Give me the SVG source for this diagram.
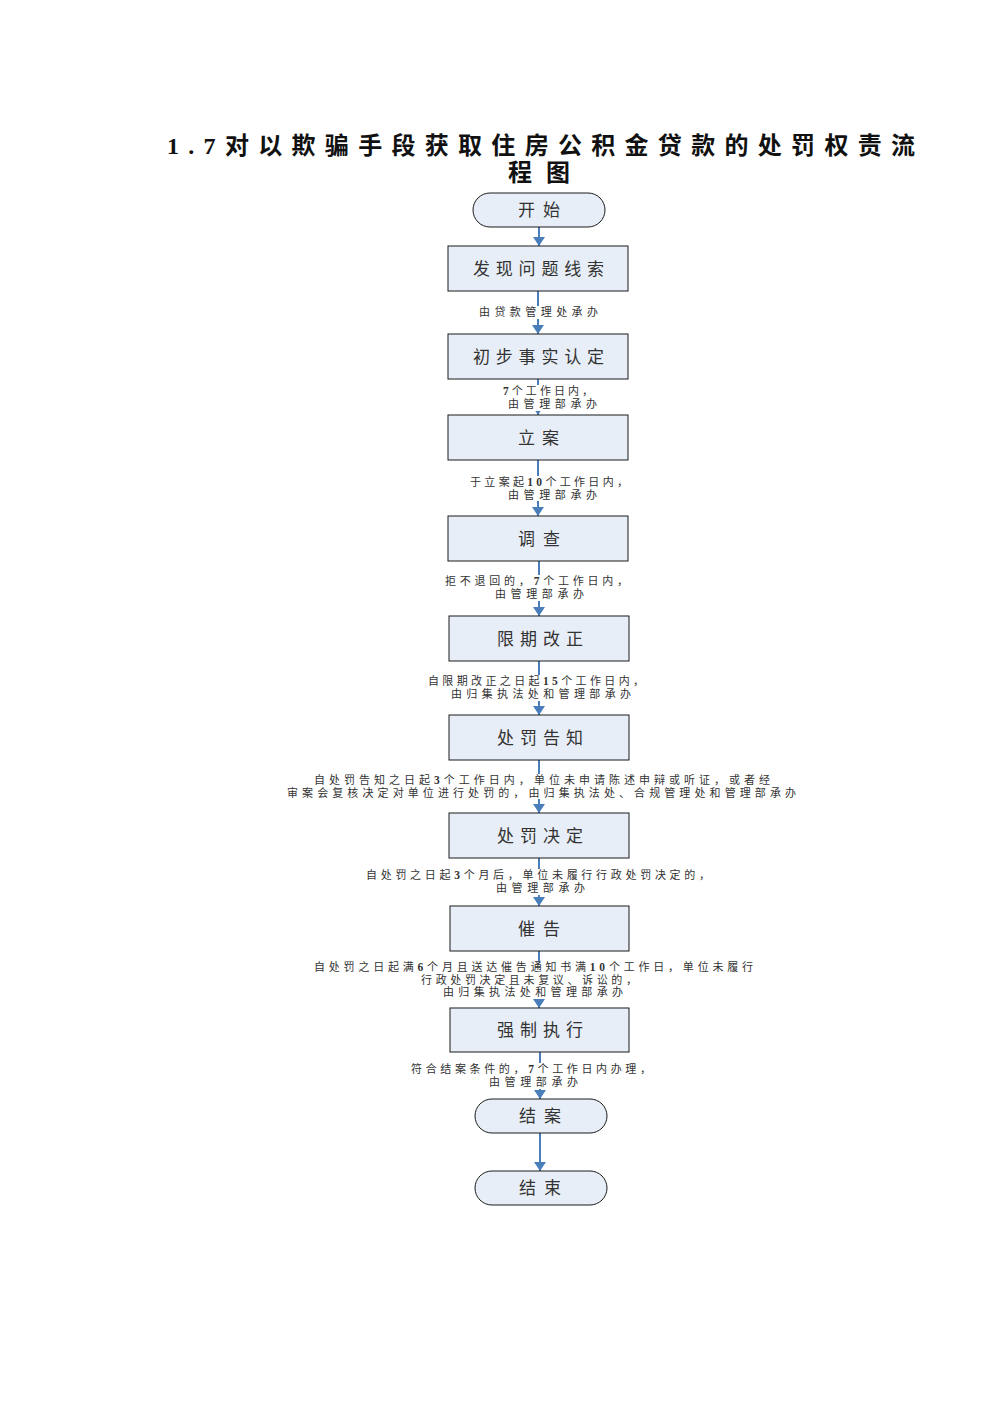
<svg xmlns="http://www.w3.org/2000/svg" width="992" height="1403" viewBox="0 0 992 1403">
<style>
.box{fill:#E8EEF7;stroke:#1a1a1a;stroke-width:1}
.nt{font-family:"Noto Sans CJK SC","Liberation Serif",serif;font-size:17px;fill:#333}
.lb{font-family:"Liberation Serif","Noto Sans CJK SC",serif;font-size:11px;fill:#333}
.d{font-weight:bold;font-size:11.5px}
.title{font-family:"Liberation Serif","Noto Sans CJK SC",serif;font-size:24px;font-weight:bold;fill:#111}
.cn{stroke:#4A7EBB;stroke-width:2;fill:none;marker-end:url(#ah)}
.bg{fill:#fff}
</style>
<defs>
<marker id="ah" viewBox="0 0 9 12" refX="9" refY="6" markerWidth="9" markerHeight="12" markerUnits="userSpaceOnUse" orient="auto">
<path d="M0,0 L9,6 L0,12 z" fill="#4A7EBB"/>
</marker>
</defs>
<rect width="992" height="1403" fill="#fff"/>
<g id="title">
<text class="title" x="167" y="154" textLength="748" lengthAdjust="spacing">1.7对以欺骗手段获取住房公积金贷款的处罚权责流</text>
<text class="title" x="508" y="181" textLength="62" lengthAdjust="spacing">程图</text>
</g>
<g id="connectors">
<line class="cn" x1="539" y1="227" x2="539" y2="246"/>
<line class="cn" x1="538" y1="291" x2="538" y2="334"/>
<line class="cn" x1="538" y1="379" x2="538" y2="415"/>
<line class="cn" x1="538" y1="460" x2="538" y2="516"/>
<line class="cn" x1="539" y1="561" x2="539" y2="616"/>
<line class="cn" x1="539" y1="661" x2="539" y2="715"/>
<line class="cn" x1="539" y1="760" x2="539" y2="813"/>
<line class="cn" x1="539" y1="858" x2="539" y2="906"/>
<line class="cn" x1="539" y1="951" x2="539" y2="1008"/>
<line class="cn" x1="540" y1="1052" x2="540" y2="1099"/>
<line class="cn" x1="540" y1="1133" x2="540" y2="1171"/>
<g id="labels">
<rect class="bg" x="478" y="306" width="121" height="13"/>
<text class="lb" x="479" y="316" textLength="119" lengthAdjust="spacing">由贷款管理处承办</text>
<rect class="bg" x="502" y="385" width="96" height="26"/>
<text class="lb" x="503" y="395" textLength="90" lengthAdjust="spacing"><tspan class="d">7</tspan>个工作日内，</text>
<text class="lb" x="508" y="408" textLength="89" lengthAdjust="spacing">由管理部承办</text>
<rect class="bg" x="469" y="476" width="160" height="25"/>
<text class="lb" x="470" y="486" textLength="158" lengthAdjust="spacing">于立案起<tspan class="d">10</tspan>个工作日内，</text>
<text class="lb" x="508" y="498.5" textLength="89" lengthAdjust="spacing">由管理部承办</text>
<rect class="bg" x="444" y="575" width="186" height="26"/>
<text class="lb" x="445" y="585" textLength="183" lengthAdjust="spacing">拒不退回的，<tspan class="d">7</tspan>个工作日内，</text>
<text class="lb" x="495" y="598" textLength="89" lengthAdjust="spacing">由管理部承办</text>
<rect class="bg" x="427" y="675" width="218" height="26"/>
<text class="lb" x="428" y="685" textLength="216" lengthAdjust="spacing">自限期改正之日起<tspan class="d">15</tspan>个工作日内，</text>
<text class="lb" x="451" y="698" textLength="180" lengthAdjust="spacing">由归集执法处和管理部承办</text>
<rect class="bg" x="286" y="774" width="512" height="25"/>
<text class="lb" x="314" y="784" textLength="456" lengthAdjust="spacing">自处罚告知之日起<tspan class="d">3</tspan>个工作日内，单位未申请陈述申辩或听证，或者经</text>
<text class="lb" x="287" y="796.5" textLength="509" lengthAdjust="spacing">审案会复核决定对单位进行处罚的，由归集执法处、合规管理处和管理部承办</text>
<rect class="bg" x="365" y="869" width="347" height="26"/>
<text class="lb" x="366" y="879" textLength="344" lengthAdjust="spacing">自处罚之日起<tspan class="d">3</tspan>个月后，单位未履行行政处罚决定的，</text>
<text class="lb" x="496" y="892" textLength="89" lengthAdjust="spacing">由管理部承办</text>
<rect class="bg" x="313" y="961" width="442" height="38"/>
<text class="lb" x="314" y="971" textLength="439" lengthAdjust="spacing">自处罚之日起满<tspan class="d">6</tspan>个月且送达催告通知书满<tspan class="d">10</tspan>个工作日，单位未履行</text>
<text class="lb" x="421" y="983.5" textLength="216" lengthAdjust="spacing">行政处罚决定且未复议、诉讼的，</text>
<text class="lb" x="443" y="996" textLength="180" lengthAdjust="spacing">由归集执法处和管理部承办</text>
<rect class="bg" x="410" y="1063" width="243" height="26"/>
<text class="lb" x="411" y="1073" textLength="240" lengthAdjust="spacing">符合结案条件的，<tspan class="d">7</tspan>个工作日内办理，</text>
<text class="lb" x="489" y="1086" textLength="89" lengthAdjust="spacing">由管理部承办</text>
</g>
</g>
<g id="n-start"><rect class="box" x="473" y="193" width="132" height="34" rx="17"/><text class="nt" x="518" y="216" textLength="42" lengthAdjust="spacing">开始</text></g>
<g id="n-find"><rect class="box" x="448" y="246" width="180" height="45"/><text class="nt" x="473" y="274.5" textLength="131" lengthAdjust="spacing">发现问题线索</text></g>
<g id="n-prelim"><rect class="box" x="448" y="334" width="180" height="45"/><text class="nt" x="473" y="362.5" textLength="131" lengthAdjust="spacing">初步事实认定</text></g>
<g id="n-file"><rect class="box" x="448" y="415" width="180" height="45"/><text class="nt" x="518" y="443.5" textLength="41" lengthAdjust="spacing">立案</text></g>
<g id="n-investigate"><rect class="box" x="448" y="516" width="180" height="45"/><text class="nt" x="518" y="544.5" textLength="42" lengthAdjust="spacing">调查</text></g>
<g id="n-correct"><rect class="box" x="449" y="616" width="180" height="45"/><text class="nt" x="497" y="644.5" textLength="86" lengthAdjust="spacing">限期改正</text></g>
<g id="n-notice"><rect class="box" x="449" y="715" width="180" height="45"/><text class="nt" x="497" y="743.5" textLength="86" lengthAdjust="spacing">处罚告知</text></g>
<g id="n-decision"><rect class="box" x="449" y="813" width="180" height="45"/><text class="nt" x="497" y="841.5" textLength="86" lengthAdjust="spacing">处罚决定</text></g>
<g id="n-urge"><rect class="box" x="450" y="906" width="179" height="45"/><text class="nt" x="518" y="934.5" textLength="42" lengthAdjust="spacing">催告</text></g>
<g id="n-enforce"><rect class="box" x="450" y="1008" width="179" height="44"/><text class="nt" x="497" y="1036" textLength="86" lengthAdjust="spacing">强制执行</text></g>
<g id="n-close"><rect class="box" x="475" y="1099" width="132" height="34" rx="17"/><text class="nt" x="519" y="1122" textLength="42" lengthAdjust="spacing">结案</text></g>
<g id="n-end"><rect class="box" x="475" y="1171" width="132" height="34" rx="17"/><text class="nt" x="519" y="1194" textLength="42" lengthAdjust="spacing">结束</text></g>
</svg>
